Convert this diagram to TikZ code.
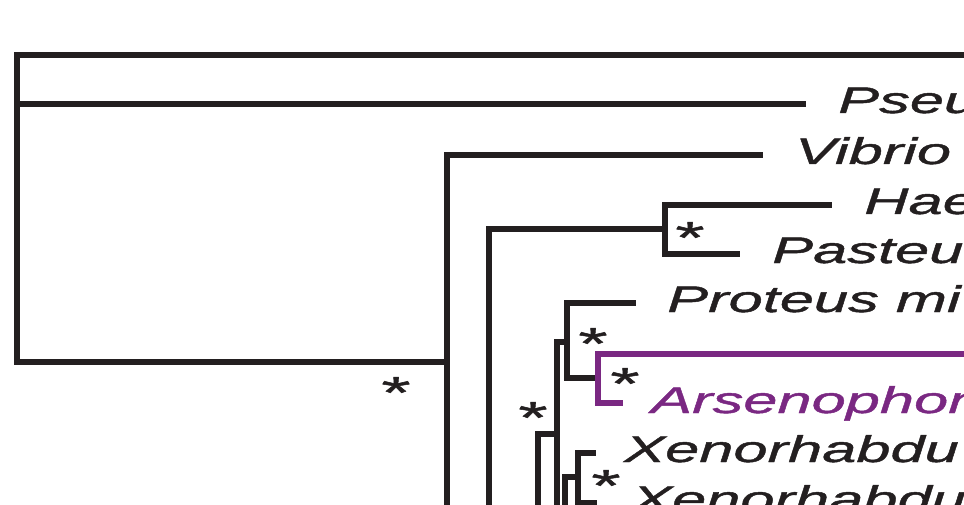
\documentclass[tikz,border=0pt]{standalone}
\usepackage{fontspec}
\setmainfont{Liberation Sans}
\newfontfamily\taxfont{Liberation Sans}[FakeStretch=1.66, FakeBold=1.2]
\usepackage{tikz}
\usetikzlibrary{calc}
\definecolor{treeblack}{RGB}{35,31,32}
\definecolor{arsenopurple}{RGB}{122,40,130}

\begin{document}
\begin{tikzpicture}[x=1pt, y=-1pt,
    branch/.style={draw=treeblack, line width=5.2pt, line join=miter},
    hibranch/.style={branch, draw=arsenopurple},
    taxon/.style={font=\taxfont\itshape\fontsize{37}{40}\selectfont,
                  text=treeblack, anchor=base west, inner sep=0pt},
    hitaxon/.style={taxon, text=arsenopurple},
    support/.style={font=\taxfont\fontsize{45}{48}\selectfont,
                    text=treeblack, anchor=base, inner sep=0pt}
]
    \useasboundingbox (0,0) rectangle (964,505);
    \clip (0,0) rectangle (964,505);

    % Internal nodes
    \coordinate (root) at (17,200);
    \coordinate (gamma) at (447,362);
    \coordinate (nB) at (489,560);
    \coordinate (nC) at (665,229);
    \coordinate (nD) at (538,620);
    \coordinate (nE) at (557,434);
    \coordinate (nF) at (567,342);
    \coordinate (nG) at (565,526);
    \coordinate (nH) at (598,378);
    \coordinate (nI) at (578,477);

    % Branch tips
    \coordinate (tOut) at (1000,55);
    \coordinate (tPseu) at (806,104);
    \coordinate (tVibrio) at (763,155);
    \coordinate (tHae) at (832,205);
    \coordinate (tPasteu) at (740,254);
    \coordinate (tProteus) at (636,303);
    \coordinate (tArsTop) at (1000,354);
    \coordinate (tArseno) at (623,403);
    \coordinate (tXenoA) at (596,453);
    \coordinate (tXenoB) at (597,503);

    % Branches
    \draw[branch] (root) |- (tOut);
    \draw[branch] (root) |- (tPseu);
    \draw[branch] (root) |- (gamma);
    \draw[branch] (gamma) |- (tVibrio);
    \draw[branch] (gamma) |- (nB);
    \draw[branch] (nB) |- (nC);
    \draw[branch] (nB) |- (nD);
    \draw[branch] (nC) |- (tHae);
    \draw[branch] (nC) |- (tPasteu);
    \draw[branch] (nD) |- (nE);
    \draw[branch] (nE) |- (nF);
    \draw[branch] (nE) |- (nG);
    \draw[branch] (nF) |- (tProteus);
    \draw[branch] (nF) |- (nH);
    \draw[branch] (nG) |- (nI);
    \draw[branch] (nI) |- (tXenoA);
    \draw[branch] (nI) |- (tXenoB);
    % Arsenophonus clade
    \draw[hibranch] (nH) |- (tArsTop);
    \draw[hibranch] (nH) |- (tArseno);

    % Taxon labels
    \node[taxon] (lPseu) at ($(tPseu)+(32,9)$) {Pseu};
    \node[taxon] (lVibrio) at ($(tVibrio)+(32,9)$) {Vibrio};
    \node[taxon] (lHae) at ($(tHae)+(32,9)$) {Hae};
    \node[taxon] (lPasteu) at ($(tPasteu)+(32,9)$) {Pasteu};
    \node[taxon] (lProteus) at ($(tProteus)+(31,9)$) {Proteus mi};
    \node[hitaxon] (lArseno) at ($(tArseno)+(28,10)$) {Arsenophon};
    \node[taxon] (lXenoA) at ($(tXenoA)+(28,9)$) {Xenorhabdu};
    \node[taxon] (lXenoB) at ($(tXenoB)+(34,9)$) {Xenorhabdu};

    % Support values
    \node[support] (sGamma) at ($(gamma)+(-51,46)$) {*};
    \node[support] (sC) at ($(nC)+(25,24)$) {*};
    \node[support] (sF) at ($(nF)+(26,17)$) {*};
    \node[support] (sH) at ($(nH)+(27,21)$) {*};
    \node[support] (sE) at ($(nE)+(-24,-1)$) {*};
    \node[support] (sI) at ($(nI)+(28,24)$) {*};
\end{tikzpicture}
\end{document}
